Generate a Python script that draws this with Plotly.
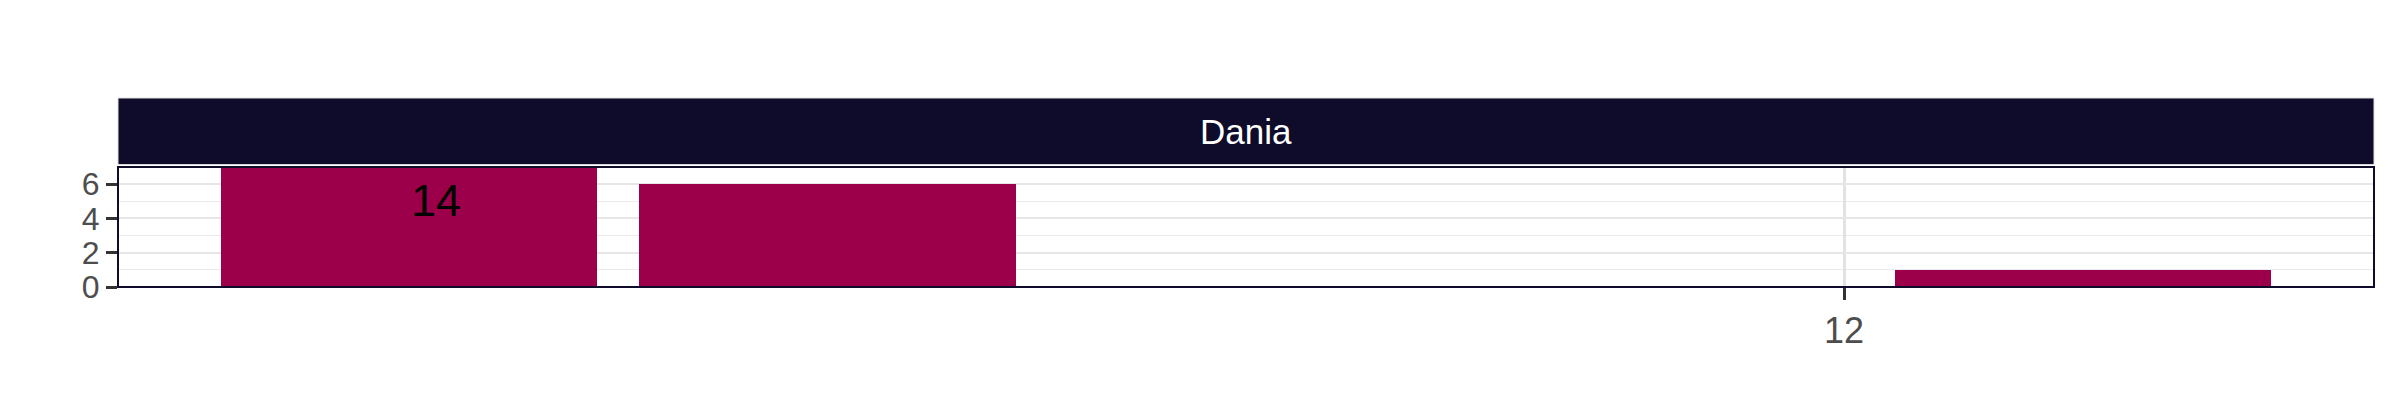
import plotly.graph_objects as go

# ---- data ----
x_vals = [8.571, 9.571, 12.571]
y_vals = [7, 6, 1]
bar_labels = ["14", "", ""]
facet_title = "Dania"
x_ticks = [12]
x_ticktext = ["12"]
y_ticks = [0, 2, 4, 6]

BAR_COLOR = "#9C004B"
STRIP_COLOR = "#0E0B2B"
GRID = "#E6E6E6"
FONT = "Liberation Sans, Arial, Helvetica, sans-serif"

bar_w = 0.9
xmin = min(x_vals) - bar_w / 2
xmax = max(x_vals) + bar_w / 2
pad = 0.05 * (xmax - xmin)
x_range = [xmin - pad, xmax + pad]
y_range = [0, max(y_vals)]

fig = go.Figure()
fig.add_trace(go.Bar(x=x_vals, y=y_vals, width=bar_w, marker=dict(color=BAR_COLOR, line=dict(width=0)),
                     hoverinfo="x+y"))

# label on first bar
for xv, yv, lab in zip(x_vals, y_vals, bar_labels):
    if lab:
        fig.add_annotation(x=xv, y=yv, text=lab, showarrow=False, xanchor="center", yanchor="middle",
                           xshift=27, yshift=-33, font=dict(family=FONT, size=45, color="black"))

# strip
fig.add_shape(type="rect", xref="paper", yref="paper", x0=0, x1=1, y0=1.02, y1=1.575,
              fillcolor=STRIP_COLOR, line=dict(color="#E0E0E0", width=1), layer="above")
fig.add_annotation(xref="paper", yref="paper", x=0.5, y=(1.02 + 1.575) / 2, text=facet_title,
                   showarrow=False, xanchor="center", yanchor="middle",
                   font=dict(family=FONT, size=35, color="white"))
# panel border
fig.add_shape(type="rect", xref="paper", yref="paper", x0=0, x1=1, y0=0, y1=1,
              line=dict(color=STRIP_COLOR, width=2), layer="above")

fig.update_xaxes(range=x_range, tickvals=x_ticks, ticktext=x_ticktext, showgrid=True, gridcolor="#E2E2E2",
                 gridwidth=3, zeroline=False, showline=False, ticks="outside", ticklen=12, tickwidth=3,
                 tickcolor="#333333", tickfont=dict(family=FONT, size=36, color="#4D4D4D"))
fig.update_yaxes(range=y_range, tickvals=y_ticks, showgrid=True, gridcolor=GRID, gridwidth=2,
                 minor=dict(dtick=1, showgrid=True, gridcolor="#EBEBEB", gridwidth=1, ticks=""),
                 zeroline=False, showline=False, ticks="outside", ticklen=11, tickwidth=3,
                 tickcolor="#333333", tickfont=dict(family=FONT, size=32, color="#4D4D4D"))

fig.update_layout(width=2400, height=420, margin=dict(l=110, r=34, t=159, b=141),
                  plot_bgcolor="white", paper_bgcolor="white", showlegend=False,
                  font=dict(family=FONT), bargap=0)

fig.write_html("out.html")
